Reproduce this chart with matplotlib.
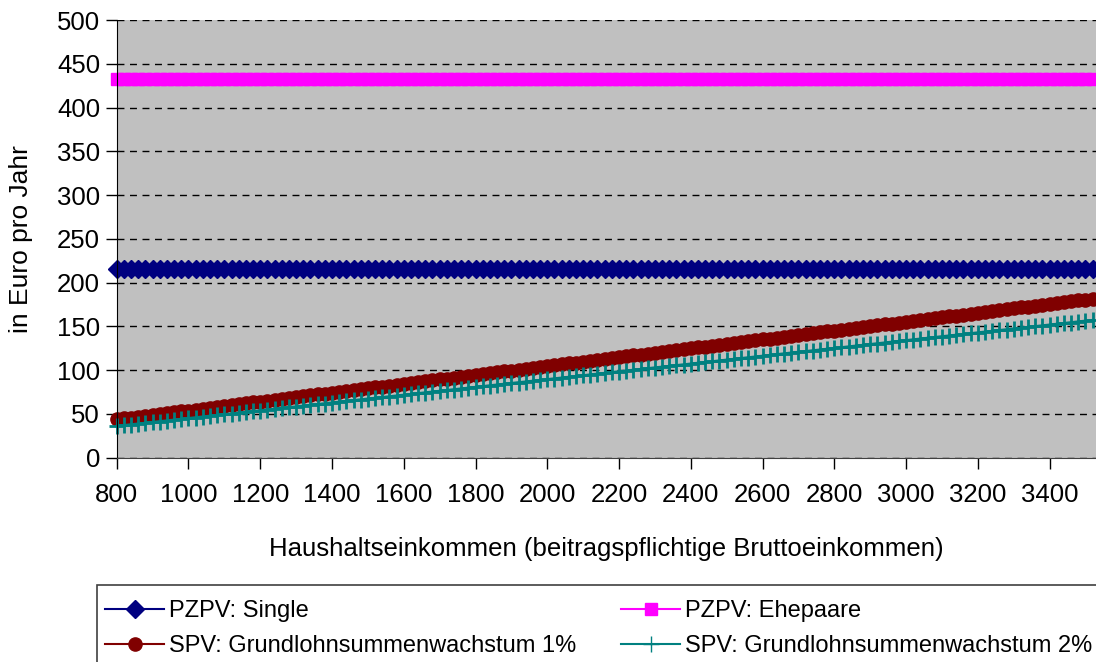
import matplotlib.pyplot as plt
from matplotlib.lines import Line2D
from matplotlib.patches import Rectangle

plt.rcParams['font.family'] = ['Liberation Sans', 'DejaVu Sans']

# Haushaltseinkommen in Schritten von 20 Euro
income = list(range(800, 3540, 20))

pzpv_single = [215] * len(income)
pzpv_ehepaare = [433] * len(income)

spv_1 = [43.8, 44.8, 45.8, 46.8, 47.9, 48.9, 49.9, 50.9, 51.9, 52.9,
         53.9, 55.0, 56.0, 57.0, 58.0, 59.0, 60.0, 61.0, 62.1, 63.1,
         64.1, 65.1, 66.1, 67.1, 68.1, 69.2, 70.2, 71.2, 72.2, 73.2,
         74.2, 75.2, 76.2, 77.3, 78.3, 79.3, 80.3, 81.3, 82.3, 83.3,
         84.4, 85.4, 86.4, 87.4, 88.4, 89.4, 90.4, 91.5, 92.5, 93.5,
         94.5, 95.5, 96.5, 97.5, 98.6, 99.6, 100.6, 101.6, 102.6, 103.6,
         104.6, 105.7, 106.7, 107.7, 108.7, 109.7, 110.7, 111.7, 112.8, 113.8,
         114.8, 115.8, 116.8, 117.8, 118.8, 119.9, 120.9, 121.9, 122.9, 123.9,
         124.9, 125.9, 127.0, 128.0, 129.0, 130.0, 131.0, 132.0, 133.0, 134.0,
         135.1, 136.1, 137.1, 138.1, 139.1, 140.1, 141.1, 142.2, 143.2, 144.2,
         145.2, 146.2, 147.2, 148.2, 149.3, 150.3, 151.3, 152.3, 153.3, 154.3,
         155.3, 156.4, 157.4, 158.4, 159.4, 160.4, 161.4, 162.4, 163.5, 164.5,
         165.5, 166.5, 167.5, 168.5, 169.5, 170.6, 171.6, 172.6, 173.6, 174.6,
         175.6, 176.6, 177.7, 178.7, 179.7, 180.7, 181.7]

spv_2 = [36.0, 36.9, 37.8, 38.7, 39.6, 40.5, 41.3, 42.2, 43.1, 44.0,
         44.9, 45.8, 46.7, 47.6, 48.5, 49.4, 50.2, 51.1, 52.0, 52.9,
         53.8, 54.7, 55.6, 56.5, 57.4, 58.3, 59.1, 60.0, 60.9, 61.8,
         62.7, 63.6, 64.5, 65.4, 66.3, 67.2, 68.0, 68.9, 69.8, 70.7,
         71.6, 72.5, 73.4, 74.3, 75.2, 76.1, 76.9, 77.8, 78.7, 79.6,
         80.5, 81.4, 82.3, 83.2, 84.1, 85.0, 85.8, 86.7, 87.6, 88.5,
         89.4, 90.3, 91.2, 92.1, 93.0, 93.9, 94.7, 95.6, 96.5, 97.4,
         98.3, 99.2, 100.1, 101.0, 101.9, 102.8, 103.6, 104.5, 105.4, 106.3,
         107.2, 108.1, 109.0, 109.9, 110.8, 111.7, 112.5, 113.4, 114.3, 115.2,
         116.1, 117.0, 117.9, 118.8, 119.7, 120.6, 121.4, 122.3, 123.2, 124.1,
         125.0, 125.9, 126.8, 127.7, 128.6, 129.5, 130.3, 131.2, 132.1, 133.0,
         133.9, 134.8, 135.7, 136.6, 137.5, 138.4, 139.2, 140.1, 141.0, 141.9,
         142.8, 143.7, 144.6, 145.5, 146.4, 147.3, 148.1, 149.0, 149.9, 150.8,
         151.7, 152.6, 153.5, 154.4, 155.3, 156.2, 157.0]

labels = ['PZPV: Single', 'PZPV: Ehepaare',
          'SPV: Grundlohnsummenwachstum 1%', 'SPV: Grundlohnsummenwachstum 2%']

W, H = 1096, 662
fig = plt.figure(figsize=(W / 100, H / 100), dpi=100)
ax = fig.add_axes([116.7 / W, 1 - 457.7 / H, 1 - 116.7 / W, (457.7 - 20) / H])
ax.set_facecolor('#C0C0C0')

ax.plot(income, pzpv_ehepaare, color='#FF00FF', marker='s', ms=9, lw=1, clip_on=False)
ax.plot(income, pzpv_single, color='#000080', marker='D', ms=9.5, lw=1, clip_on=False)
ax.plot(income, spv_1, color='#800000', marker='o', ms=9.5, lw=1, clip_on=False)
ax.plot(income, spv_2, color='#008080', marker='+', ms=11, mew=2, lw=2, clip_on=False)

ax.set_xlim(800, 800 + (W - 116.7) / 0.3588)
ax.set_ylim(0, 500)
ax.set_xticks(range(800, 3600, 200))
ax.set_yticks(range(0, 550, 50))
ax.yaxis.grid(True, color='black', ls=(0, (5, 4)), lw=1)
ax.set_axisbelow(True)

for s in ['top', 'right']:
    ax.spines[s].set_visible(False)
ax.spines['left'].set_color('black')
ax.spines['bottom'].set_color('#404040')
ax.tick_params(axis='both', direction='out', length=8, width=1, labelsize=18.5, colors='black')
ax.tick_params(axis='x', pad=10)
ax.tick_params(axis='y', pad=4)

ax.set_ylabel('in Euro pro Jahr', fontsize=19, labelpad=17)
ax.set_xlabel('Haushaltseinkommen (beitragspflichtige Bruttoeinkommen)', fontsize=18.5, labelpad=22)

# Legendenrahmen, rechts und unten abgeschnitten
fig.patches.append(Rectangle((97 / W, -0.05), 1.0, 1 - 585 / H + 0.05, transform=fig.transFigure,
                             facecolor='white', edgecolor='#404040', lw=1.2))

handles = [Line2D([], [], color='#000080', marker='D', ms=9),
           Line2D([], [], color='#FF00FF', marker='s', ms=8.5),
           Line2D([], [], color='#800000', marker='o', ms=9.5),
           Line2D([], [], color='#008080', marker='+', ms=11)]
order = [0, 2, 1, 3]
fig.legend([handles[i] for i in order], [labels[i] for i in order], ncol=2, frameon=False,
           loc='upper left', bbox_to_anchor=(96 / W, 1 - 591 / H), fontsize=17,
           handlelength=2.5, handletextpad=0.2, columnspacing=1.9, labelspacing=0.55,
           borderaxespad=0)

fig.savefig('out.png', dpi=100)
